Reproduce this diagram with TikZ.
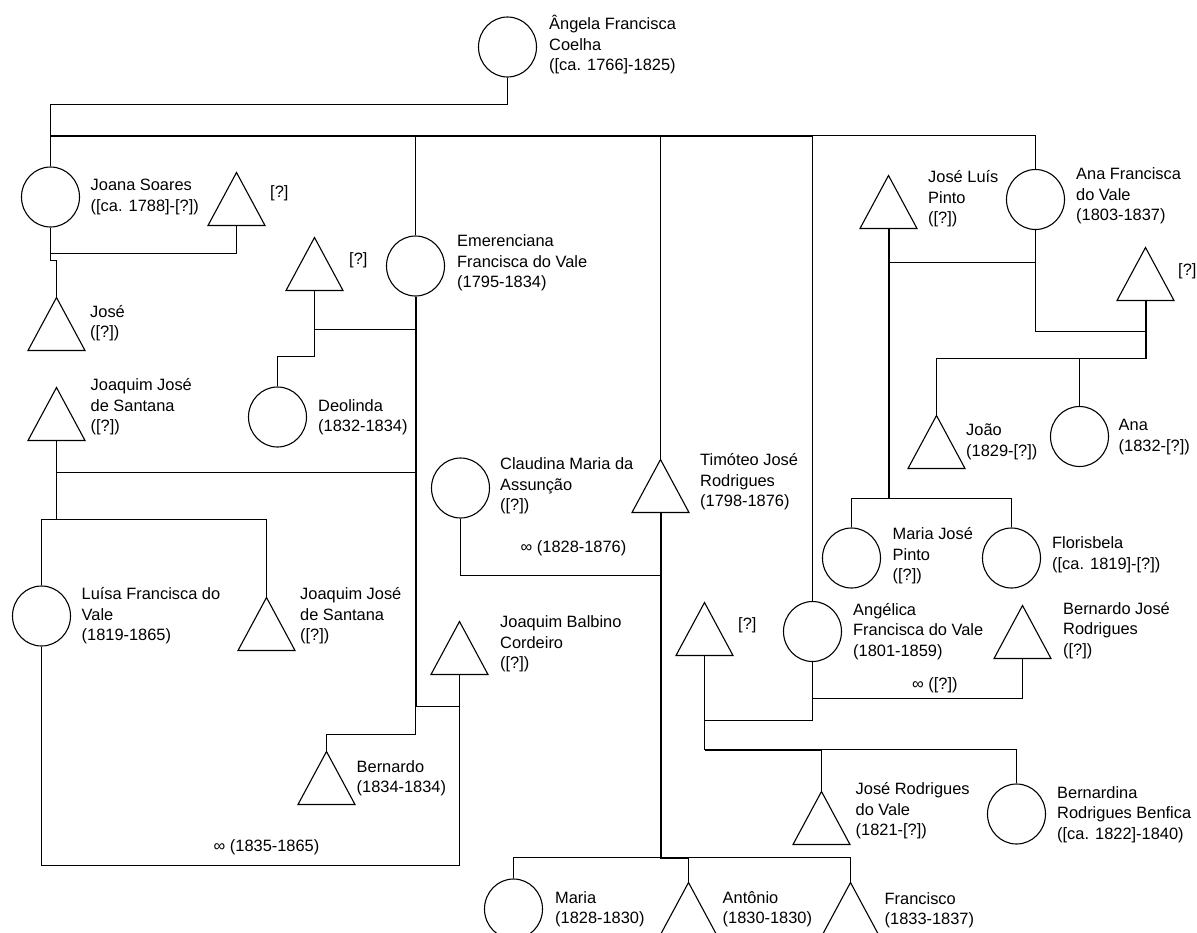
\documentclass[tikz,border=0pt]{standalone}
\usepackage{fontspec}
\setmainfont{Liberation Sans}
\usetikzlibrary{shapes.geometric}
\begin{document}
\begin{tikzpicture}[x=1bp,y=-1bp,
  ln/.style={line width=1.1bp},
  thk/.style={line width=2bp},
  fem/.style={draw, ellipse, minimum width=58bp, minimum height=60bp, inner sep=0pt, line width=1.1bp},
  mal/.style={rectangle, minimum width=57bp, minimum height=53bp, inner sep=0pt, outer sep=0pt},
  txt/.style={anchor=west, align=left, inner sep=0pt, font=\fontsize{16.4bp}{20.5bp}\selectfont}]
\useasboundingbox (0,0) rectangle (1197,933);
\fill[white] (0,0) rectangle (1197,933);
\clip (0,0) rectangle (1197,933);

% women
\node[fem] (ang) at (507.5,47) {};
\node[fem] (joana) at (50.5,197) {};
\node[fem] (emer) at (415.5,266) {};
\node[fem] (deol) at (277.5,417) {};
\node[fem] (luisa) at (41.5,616) {};
\node[fem] (claud) at (460.5,488) {};
\node[fem] (ana) at (1035.5,199.5) {};
\node[fem] (anaf) at (1079.5,436.5) {};
\node[fem] (mjp) at (851.5,558) {};
\node[fem] (flor) at (1011.5,558) {};
\node[fem] (angel) at (812.5,631.5) {};
\node[fem] (bern) at (1016.5,814) {};
\node[fem] (maria) at (513.5,909) {};

% men
\node[mal] (joanasp) at (236.5,199) {};
\node[mal] (jose) at (56.5,324) {};
\node[mal] (deolf) at (314.5,264) {};
\node[mal] (jjsa) at (56.5,414) {};
\node[mal] (jjsb) at (266.5,624) {};
\node[mal] (balb) at (459.5,648) {};
\node[mal] (bdo) at (326.5,778) {};
\node[mal] (tim) at (660.5,486) {};
\node[mal] (jlp) at (888.5,202) {};
\node[mal] (anasp) at (1145.5,274) {};
\node[mal] (joao) at (936.5,442) {};
\node[mal] (angsp) at (704.5,629) {};
\node[mal] (bjr) at (1022.5,632) {};
\node[mal] (jrv) at (821.5,818) {};
\node[mal] (anto) at (688.5,909) {};
\node[mal] (fran) at (850.5,909) {};
\foreach \n in {joanasp,jose,deolf,jjsa,jjsb,balb,bdo,tim,jlp,anasp,joao,angsp,bjr,jrv,anto,fran}
  \draw[ln] (\n.north) -- (\n.south east) -- (\n.south west) -- cycle;

% labels
\node[txt] (angT) at (549,45) {Ângela Francisca\\Coelha\\([ca. 1766]-1825)};
\node[txt] (joanaT) at (90.5,197) {Joana Soares\\([ca. 1788]-[?])};
\node[txt] (joanaspT) at (270,193) {[?]};
\node[txt] (emerT) at (457,263) {Emerenciana\\Francisca do Vale\\(1795-1834)};
\node[txt] (deolfT) at (349,260) {[?]};
\node[txt] (joseT) at (90,323) {José\\([?])};
\node[txt] (jjsaT) at (90.5,407) {Joaquim José\\de Santana\\([?])};
\node[txt] (deolT) at (318,417.5) {Deolinda\\(1832-1834)};
\node[txt] (claudT) at (500,486) {Claudina Maria da\\Assunção\\([?])};
\node[txt] (mCT) at (520.5,548) {∞ (1828-1876)};
\node[txt] (timT) at (700,482) {Timóteo José\\Rodrigues\\(1798-1876)};
\node[txt] (luisaT) at (81.5,616) {Luísa Francisca do\\Vale\\(1819-1865)};
\node[txt] (jjsbT) at (300,616) {Joaquim José\\de Santana\\([?])};
\node[txt] (balbT) at (500,644) {Joaquim Balbino\\Cordeiro\\([?])};
\node[txt] (bdoT) at (356.5,778) {Bernardo\\(1834-1834)};
\node[txt] (mLT) at (213.5,847) {∞ (1835-1865)};
\node[txt] (mariaT) at (555,909) {Maria\\(1828-1830)};
\node[txt] (antoT) at (722.5,909) {Antônio\\(1830-1830)};
\node[txt] (franT) at (884.5,910) {Francisco\\(1833-1837)};
\node[txt] (jlpT) at (928,199) {José Luís\\Pinto\\([?])};
\node[txt] (anaT) at (1076,196) {Ana Francisca\\do Vale\\(1803-1837)};
\node[txt] (anaspT) at (1178,271) {[?]};
\node[txt] (joaoT) at (966,442) {João\\(1829-[?])};
\node[txt] (anafT) at (1118.5,437) {Ana\\(1832-[?])};
\node[txt] (mjpT) at (892.5,556) {Maria José\\Pinto\\([?])};
\node[txt] (florT) at (1052,555) {Florisbela\\([ca. 1819]-[?])};
\node[txt] (angelT) at (853,631.5) {Angélica\\Francisca do Vale\\(1801-1859)};
\node[txt] (angspT) at (738,625) {[?]};
\node[txt] (bjrT) at (1063,630.5) {Bernardo José\\Rodrigues\\([?])};
\node[txt] (mGT) at (912,685) {∞ ([?])};
\node[txt] (jrvT) at (855.5,811) {José Rodrigues\\do Vale\\(1821-[?])};
\node[txt] (bernT) at (1057,814.5) {Bernardina\\Rodrigues Benfica\\([ca. 1822]-1840)};

% Angela's children
\coordinate (bus) at (50.5,135.5);
\draw[ln] (ang.south) -- ++(0,26.5) -| (joana.north);
\draw[thk] (bus) -- (bus -| angel.north);
\draw[ln] (bus -| angel.north) -| (ana.north);
\draw[ln] (bus -| emer.north) -- (emer.north);
\draw[ln] (bus -| tim.north) -- (tim.north);
\draw[ln] (bus -| angel.north) -- (angel.north);

% Joana
\coordinate (mJ) at (50.5,253.5);
\draw[ln] (joana.south) -- (mJ) -| (joanasp.south);
\draw[ln] (mJ) -- ++(0,7) -| (jose.north);

% Emerenciana
\coordinate (mE1) at (415.5,329.5);
\coordinate (mE2) at (415.5,472.5);
\coordinate (mE3) at (415.5,706.5);
\draw[thk] (emer.south) -- (mE3);
\draw[ln] (mE1) -| (deolf.south);
\draw[ln] (mE1 -| deolf.south) -- ++(0,27) -| (deol.north);
\draw[ln] (mE2) -| (jjsa.south);
\draw[ln] (mE2 -| jjsa.south) -- ++(0,47) coordinate (cE2);
\draw[ln] (luisa.north) |- (cE2) -| (jjsb.north);
\draw[ln] (mE3) -| (balb.south);
\draw[ln] (mE3) -- ++(0,28) -| (bdo.north);

% Luisa
\draw[ln] (luisa.south) -- (41.5,865.5) -| (balb.south);

% Claudina and Timoteo
\coordinate (mC) at (660.5,575.5);
\draw[ln] (claud.south) |- (mC);
\draw[thk] (tim.south) -- (660.5,857.5) coordinate (cT) -- (cT -| anto.north);
\draw[ln] (maria.north) |- (cT);
\draw[ln] (cT -| anto.north) -| (fran.north);
\draw[ln] (cT -| anto.north) -- (anto.north);

% Ana
\coordinate (mA1) at (1035.5,262.5);
\coordinate (mA2) at (1035.5,331.5);
\draw[ln] (ana.south) -- (mA1) -| (jlp.south);
\draw[thk] (jlp.south) -- (888.5,498.5) coordinate (cA1);
\draw[ln] (mjp.north) |- (cA1) -| (flor.north);
\draw[ln] (mA1) -- (mA2) -| (anasp.south);
\draw[thk] (anasp.south) -- (1145.5,358.5) coordinate (cA2);
\draw[ln] (cA2) -| (joao.north);
\draw[ln] (cA2 -| anaf.north) -- (anaf.north);

% Angelica
\coordinate (mG1) at (812.5,698.5);
\coordinate (mG2) at (812.5,720.5);
\draw[ln] (angel.south) -- (mG2) -| (angsp.south);
\draw[ln] (mG1) -| (bjr.south);
\draw[ln] (angsp.south) -- (704.5,749.5) coordinate (cG);
\draw[thk] (cG) -- (cG -| jrv.north);
\draw[ln] (cG -| jrv.north) -| (bern.north);
\draw[ln] (cG -| jrv.north) -- (jrv.north);
\end{tikzpicture}
\end{document}
